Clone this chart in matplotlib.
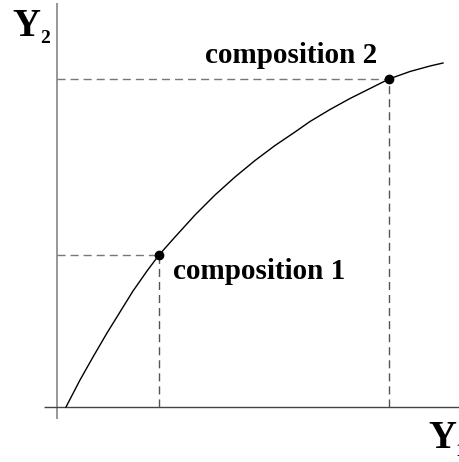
import matplotlib
matplotlib.use("Agg")
import matplotlib.pyplot as plt

# Curve Y2(Y1), sampled along the relationship
curve_y1 = [9, 23, 36, 50, 63, 76, 90, 102, 118, 138, 158, 178, 198, 218,
            238, 253, 273, 293, 313, 332, 353, 373, 386]
curve_y2 = [0, 27, 50, 74, 95, 116, 136, 152, 170, 192, 212, 230, 246.5, 261.5,
            275, 285.5, 297.5, 308.5, 318.5, 328, 335.5, 341, 344]

# Marked compositions on the curve
comp_names = ["composition 1", "composition 2"]
comp_y1 = [102, 332]
comp_y2 = [152, 328]

fig = plt.figure(figsize=(4.6, 4.62), dpi=100)
ax = fig.add_axes([0, 0, 1, 1])
ax.set_xlim(-57, 403)
ax.set_ylim(-55, 407)
ax.axis("off")

serif = ["Liberation Serif", "DejaVu Serif"]

# Coordinate axes
ax.plot([0, 0], [-12, 404], color="#7a7a7a", lw=1.1, solid_capstyle="butt")
ax.plot([-13, 403], [0, 0], color="#444444", lw=1.0, solid_capstyle="butt")

# Curve
ax.plot(curve_y1, curve_y2, color="black", lw=1.0, solid_joinstyle="round")

# Projections of the compositions onto the axes
for x, y in zip(comp_y1, comp_y2):
    ax.plot([0, x], [y, y], color="#777777", lw=1.0, dashes=(5.8, 3.6))
    ax.plot([x, x], [0, y], color="#555555", lw=1.0, dashes=(5.8, 3.6))
ax.plot(comp_y1, comp_y2, "o", color="black", ms=6, zorder=5)

# Composition labels
label_pos = [(116, 128), (148, 344)]
for name, (lx, ly) in zip(comp_names, label_pos):
    ax.text(lx, ly, name, family=serif, fontweight="bold", fontsize=21,
            ha="left", va="baseline")

# Axis names with subscripts
ax.text(-45, 371, "Y", family=serif, fontweight="bold", fontsize=28,
        ha="left", va="baseline")
ax.text(-17, 364, "2", family=serif, fontweight="bold", fontsize=14,
        ha="left", va="baseline")
ax.text(371, -41, "Y", family=serif, fontweight="bold", fontsize=28,
        ha="left", va="baseline")
ax.text(398, -49, "1", family=serif, fontweight="bold", fontsize=14,
        ha="left", va="baseline")

fig.savefig("out.png", dpi=100)
